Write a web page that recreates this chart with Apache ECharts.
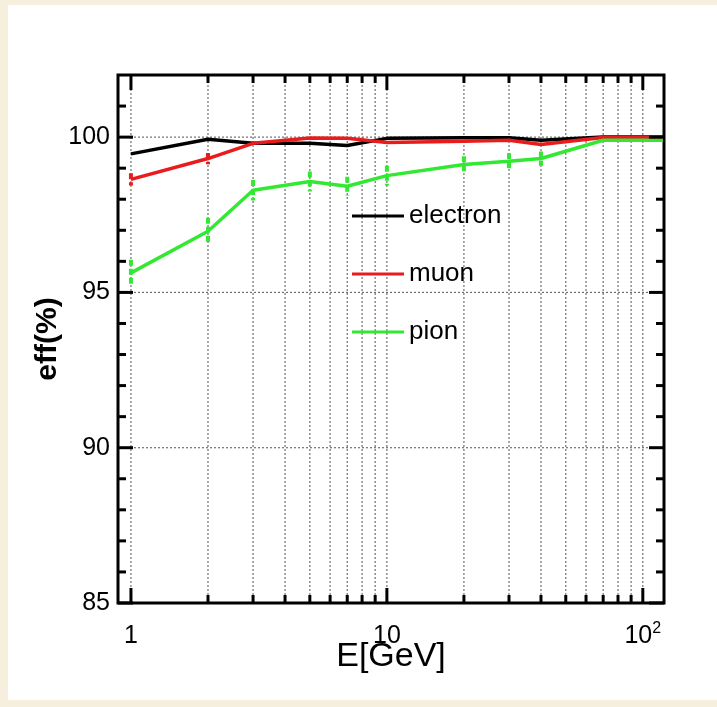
<!DOCTYPE html>
<html>
<head>
<meta charset="utf-8">
<script src="https://cdn.jsdelivr.net/npm/echarts@6/dist/echarts.min.js"></script>
<style>
  html, body { margin: 0; padding: 0; background: #f7efdd; }
  #panel { position: absolute; left: 8px; top: 5px; right: 0; bottom: 7px; background: #ffffff; }
  #chart { position: absolute; left: 0; top: 0; width: 717px; height: 707px; }
</style>
</head>
<body>
<div id="panel"></div>
<div id="chart"></div>
<script>
// Beam energies (GeV) and identification efficiencies (%)
const energies    = [1, 2, 3, 5, 7, 10, 20, 30, 40, 70, 120];
const electronEff = [99.46, 99.93, 99.80, 99.80, 99.73, 99.96, 99.98, 99.98, 99.90, 100.0, 100.0];
const muonEff     = [98.64, 99.31, 99.80, 99.97, 99.96, 99.83, 99.87, 99.90, 99.76, 99.99, 99.99];
const pionEff     = [95.63, 96.97, 98.29, 98.57, 98.42, 98.76, 99.12, 99.22, 99.31, 99.90, 99.90];
// statistical errors (%)
const pionErr     = [0.42, 0.43, 0.33, 0.32, 0.30, 0.32, 0.26, 0.26, 0.23, 0, 0];
const muonErr     = [0.20, 0.18, 0, 0, 0, 0, 0, 0, 0, 0, 0];

// axis ranges and ticks
const xRange = [0.89, 121];
const yRange = [85, 102];
const xTickValues = [1, 2, 3, 4, 5, 6, 7, 8, 9, 10, 20, 30, 40, 50, 60, 70, 80, 90, 100];
const xMajorTicks = [1, 10, 100];
const xTickLabels = ['1', '10', '10{sup|2}'];
const yTickValues = [85, 86, 87, 88, 89, 90, 91, 92, 93, 94, 95, 96, 97, 98, 99, 100, 101];
const yMajorTicks = [85, 90, 95, 100];
const yTickLabels = ['85', '90', '95', '100'];

const FONT = "'Liberation Sans', Arial, Helvetica, sans-serif";
const COLORS = { electron: '#000000', muon: '#e81c1c', pion: '#33e833' };

function pairs(xs, ys) { return xs.map((x, i) => [x, ys[i]]); }
function errorData(xs, ys, es) {
  return xs.map((x, i) => [x, ys[i], es[i]]).filter(d => d[2] > 0);
}

function lineSeries(name, values) {
  return {
    name: name, type: 'line', data: pairs(energies, values),
    symbol: 'none', z: 4, color: COLORS[name],
    lineStyle: { color: COLORS[name], width: 3.5 },
    emphasis: { disabled: true }, silent: true
  };
}

function errorSeries(name, values, errs) {
  return {
    name: name + '-err', type: 'custom', coordinateSystem: 'cartesian2d',
    data: errorData(energies, values, errs), encode: { x: 0, y: 1 },
    z: 5, silent: true, clip: false,
    renderItem: function (params, api) {
      const x = api.value(0), y = api.value(1), e = api.value(2);
      const a = api.coord([x, y + e]), b = api.coord([x, y - e]);
      return { type: 'line', shape: { x1: a[0], y1: a[1], x2: b[0], y2: b[1] },
        style: { stroke: COLORS[name], lineWidth: 4, lineDash: [6, 3] } };
    }
  };
}

// dotted grid lines
const GRID_STYLE = { stroke: '#707070', lineWidth: 1.2, lineDash: [2, 2] };
const xGridSeries = {
  type: 'custom', coordinateSystem: 'cartesian2d', silent: true, clip: false, z: 1,
  data: xTickValues.map(v => [v, yRange[0]]), encode: { x: 0, y: 1 },
  renderItem: function (params, api) {
    const v = api.value(0);
    const a = api.coord([v, yRange[0]]), b = api.coord([v, yRange[1]]);
    return { type: 'line', shape: { x1: a[0], y1: a[1], x2: b[0], y2: b[1] }, style: GRID_STYLE };
  }
};
const yGridSeries = {
  type: 'custom', coordinateSystem: 'cartesian2d', silent: true, clip: false, z: 1,
  data: yMajorTicks.slice(1).map(v => [1, v]), encode: { x: 0, y: 1 },
  renderItem: function (params, api) {
    const v = api.value(1);
    const a = api.coord([xRange[0], v]), b = api.coord([xRange[1], v]);
    return { type: 'line', shape: { x1: a[0], y1: a[1], x2: b[0], y2: b[1] }, style: GRID_STYLE };
  }
};

// inward ticks on all four sides
const TICK_MAJOR = 15, TICK_MINOR = 8;
const xTickSeries = {
  type: 'custom', coordinateSystem: 'cartesian2d', silent: true, clip: false, z: 6,
  data: xTickValues.map(v => [v, yRange[0]]), encode: { x: 0, y: 1 },
  renderItem: function (params, api) {
    const v = api.value(0);
    const len = xMajorTicks.indexOf(v) >= 0 ? TICK_MAJOR : TICK_MINOR;
    const bot = api.coord([v, yRange[0]]), top = api.coord([v, yRange[1]]);
    const st = { stroke: '#000', lineWidth: 3 };
    return { type: 'group', children: [
      { type: 'line', shape: { x1: bot[0], y1: bot[1], x2: bot[0], y2: bot[1] - len }, style: st },
      { type: 'line', shape: { x1: top[0], y1: top[1], x2: top[0], y2: top[1] + len }, style: st }
    ] };
  }
};
const yTickSeries = {
  type: 'custom', coordinateSystem: 'cartesian2d', silent: true, clip: false, z: 6,
  data: yTickValues.map(v => [1, v]), encode: { x: 0, y: 1 },
  renderItem: function (params, api) {
    const v = api.value(1);
    const len = yMajorTicks.indexOf(v) >= 0 ? TICK_MAJOR : TICK_MINOR;
    const l = api.coord([xRange[0], v]), r = api.coord([xRange[1], v]);
    const st = { stroke: '#000', lineWidth: 3 };
    return { type: 'group', children: [
      { type: 'line', shape: { x1: l[0], y1: l[1], x2: l[0] + len, y2: l[1] }, style: st },
      { type: 'line', shape: { x1: r[0], y1: r[1], x2: r[0] - len, y2: r[1] }, style: st }
    ] };
  }
};

// tick labels
const xLabelSeries = {
  type: 'custom', coordinateSystem: 'cartesian2d', silent: true, clip: false, z: 6,
  data: xMajorTicks.map((v, i) => [v, yRange[0], i]), encode: { x: 0, y: 1 },
  renderItem: function (params, api) {
    const v = api.value(0), i = api.value(2);
    const p = api.coord([v, yRange[0]]);
    return { type: 'text', x: p[0], y: p[1] + 33,
      style: { text: xTickLabels[i], fontSize: 25, fontFamily: FONT, fill: '#000',
        align: 'center', verticalAlign: 'middle',
        rich: { sup: { fontSize: 16, fontFamily: FONT, padding: [0, 0, 14, 0] } } } };
  }
};
const yLabelSeries = {
  type: 'custom', coordinateSystem: 'cartesian2d', silent: true, clip: false, z: 6,
  data: yMajorTicks.map((v, i) => [1, v, i]), encode: { x: 0, y: 1 },
  renderItem: function (params, api) {
    const v = api.value(1), i = api.value(2);
    const p = api.coord([xRange[0], v]);
    return { type: 'text', x: p[0] - 8, y: p[1],
      style: { text: yTickLabels[i], fontSize: 25, fontFamily: FONT, fill: '#000',
        align: 'right', verticalAlign: 'middle' } };
  }
};

const chart = echarts.init(document.getElementById('chart'), null, { renderer: 'canvas' });
chart.setOption({
  animation: false,
  backgroundColor: 'transparent',
  grid: { left: 118, right: 53, top: 75, bottom: 104, show: true,
    borderColor: '#000', borderWidth: 3, backgroundColor: 'transparent' },
  xAxis: {
    type: 'log', logBase: 10, min: xRange[0], max: xRange[1],
    axisLine: { show: false }, axisTick: { show: false }, axisLabel: { show: false },
    splitLine: { show: false },
    name: 'E[GeV]', nameLocation: 'middle', nameGap: 37,
    nameTextStyle: { fontSize: 34, fontFamily: FONT, color: '#000' }
  },
  yAxis: {
    type: 'value', min: yRange[0], max: yRange[1],
    axisLine: { show: false }, axisTick: { show: false }, axisLabel: { show: false },
    splitLine: { show: false },
    name: 'eff(%)', nameLocation: 'middle', nameGap: 55, nameRotate: 90,
    nameTextStyle: { fontSize: 30, fontWeight: 'bold', fontFamily: FONT, color: '#000' }
  },
  legend: {
    orient: 'vertical', left: 347, top: 198,
    itemWidth: 52, itemHeight: 3, itemGap: 32, icon: 'rect',
    selectedMode: false,
    textStyle: { fontSize: 26, fontFamily: FONT, color: '#000', lineHeight: 26 },
    data: ['electron', 'muon', 'pion']
  },
  series: [
    xGridSeries, yGridSeries,
    lineSeries('electron', electronEff),
    lineSeries('muon', muonEff),
    lineSeries('pion', pionEff),
    errorSeries('muon', muonEff, muonErr),
    errorSeries('pion', pionEff, pionErr),
    xTickSeries, yTickSeries, xLabelSeries, yLabelSeries
  ]
});
</script>
</body>
</html>
